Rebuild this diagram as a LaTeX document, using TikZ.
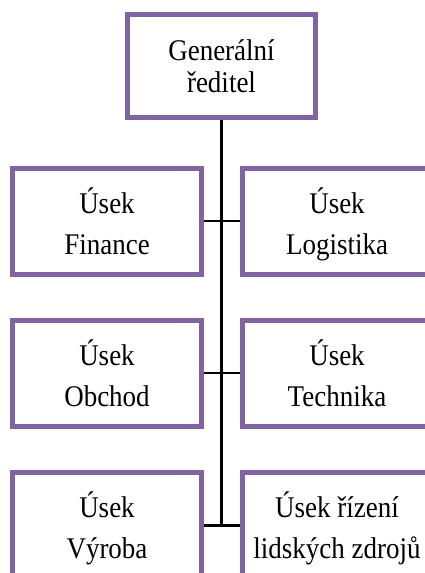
\documentclass[tikz,border=0pt]{standalone}
\usepackage{fontspec}
\setmainfont{Liberation Serif}[FakeStretch=0.9]
\definecolor{boxpurple}{RGB}{128,100,162}
\begin{document}
\begin{tikzpicture}[x=1pt,y=-1pt,
  orgbox/.style={draw=boxpurple, line width=5pt, fill=white, align=center,
    minimum width=189pt, minimum height=106pt, inner sep=0pt, text depth=0pt,
    font=\fontsize{30}{41}\selectfont},
  topbox/.style={orgbox, minimum width=188pt, minimum height=103pt,
    font=\fontsize{30}{32}\selectfont},
  link/.style={draw=black, line width=2.5pt}]
\useasboundingbox (0,0) rectangle (425,573);
\clip (0,0) rectangle (425,573);
\node[topbox] (gen) at (221.5,66) {Generální\\ředitel};
\node[orgbox] (fin) at (107,221) {Úsek\\Finance};
\node[orgbox] (log) at (337,221) {Úsek\\Logistika};
\node[orgbox] (obc) at (107,373) {Úsek\\Obchod};
\node[orgbox] (tec) at (337,373) {Úsek\\Technika};
\node[orgbox] (vyr) at (107,525.5) {Úsek\\Výroba};
\node[orgbox] (hr) at (337,525.5) {Úsek řízení\\lidských zdrojů};
\coordinate (bend) at (gen.south |- vyr.east);
\draw[link] (gen.south) -- (bend);
\draw[link] (fin.east) -- (log.west);
\draw[link] (obc.east) -- (tec.west);
\draw[link] (vyr.east) -- (hr.west);
\end{tikzpicture}
\end{document}
